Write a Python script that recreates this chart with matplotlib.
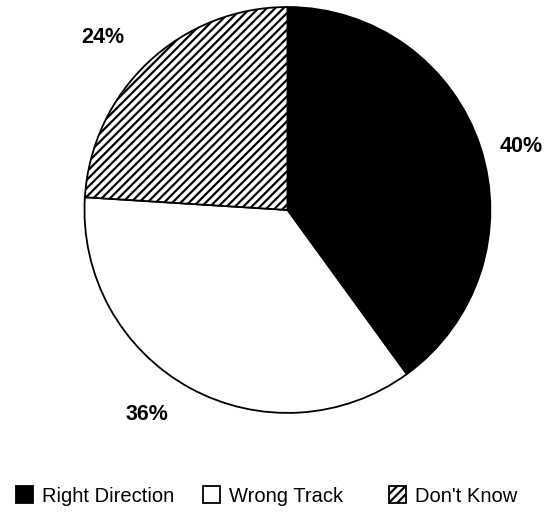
import matplotlib
matplotlib.use("Agg")
import matplotlib.pyplot as plt
from matplotlib.patches import Patch

plt.rcParams['font.family'] = ['Liberation Sans', 'DejaVu Sans']
plt.rcParams['hatch.linewidth'] = 1.6

# survey answers, percent
categories = ['Right Direction', 'Wrong Track', "Don't Know"]
values = [40, 36, 24]
pct_labels = ['40%', '36%', '24%']

colors = ['black', 'white', 'white']
hatches = [None, None, '////']

fig = plt.figure(figsize=(5.5, 5.12), dpi=100)
ax = fig.add_axes([0.1536, 0.1934, 0.738, 0.793])

wedges, _ = ax.pie(values, colors=colors, startangle=90, counterclock=False,
                   radius=1, wedgeprops=dict(edgecolor='black', linewidth=1.3))
for w, h in zip(wedges, hatches):
    if h:
        w.set_hatch(h)

ax.set_xlim(-1, 1)
ax.set_ylim(-1, 1)
ax.set_aspect('equal')
ax.axis('off')

# label positions (in pie radius units), placed by hand like the original
label_pos = [(1.15, 0.315), (-0.69, -1.01), (-0.91, 0.852)]
for txt, (lx, ly) in zip(pct_labels, label_pos):
    ax.text(lx, ly, txt, ha='center', va='center', fontsize=15.5,
            fontweight='bold', clip_on=False)

# legend, one entry per box so the uneven gaps can be kept
legend_x = [16, 203, 389]
for name, c, h, x in zip(categories, colors, hatches, legend_x):
    handle = Patch(facecolor=c, edgecolor='black', hatch=h, linewidth=1.3)
    fig.legend(handles=[handle], labels=[name], loc='center left',
               bbox_to_anchor=(x / 550, 1 - 496 / 512), frameon=False,
               fontsize=14.5, handlelength=0.85, handleheight=0.85,
               handletextpad=0.45, borderpad=0, borderaxespad=0)

fig.savefig('out.png', dpi=100)
